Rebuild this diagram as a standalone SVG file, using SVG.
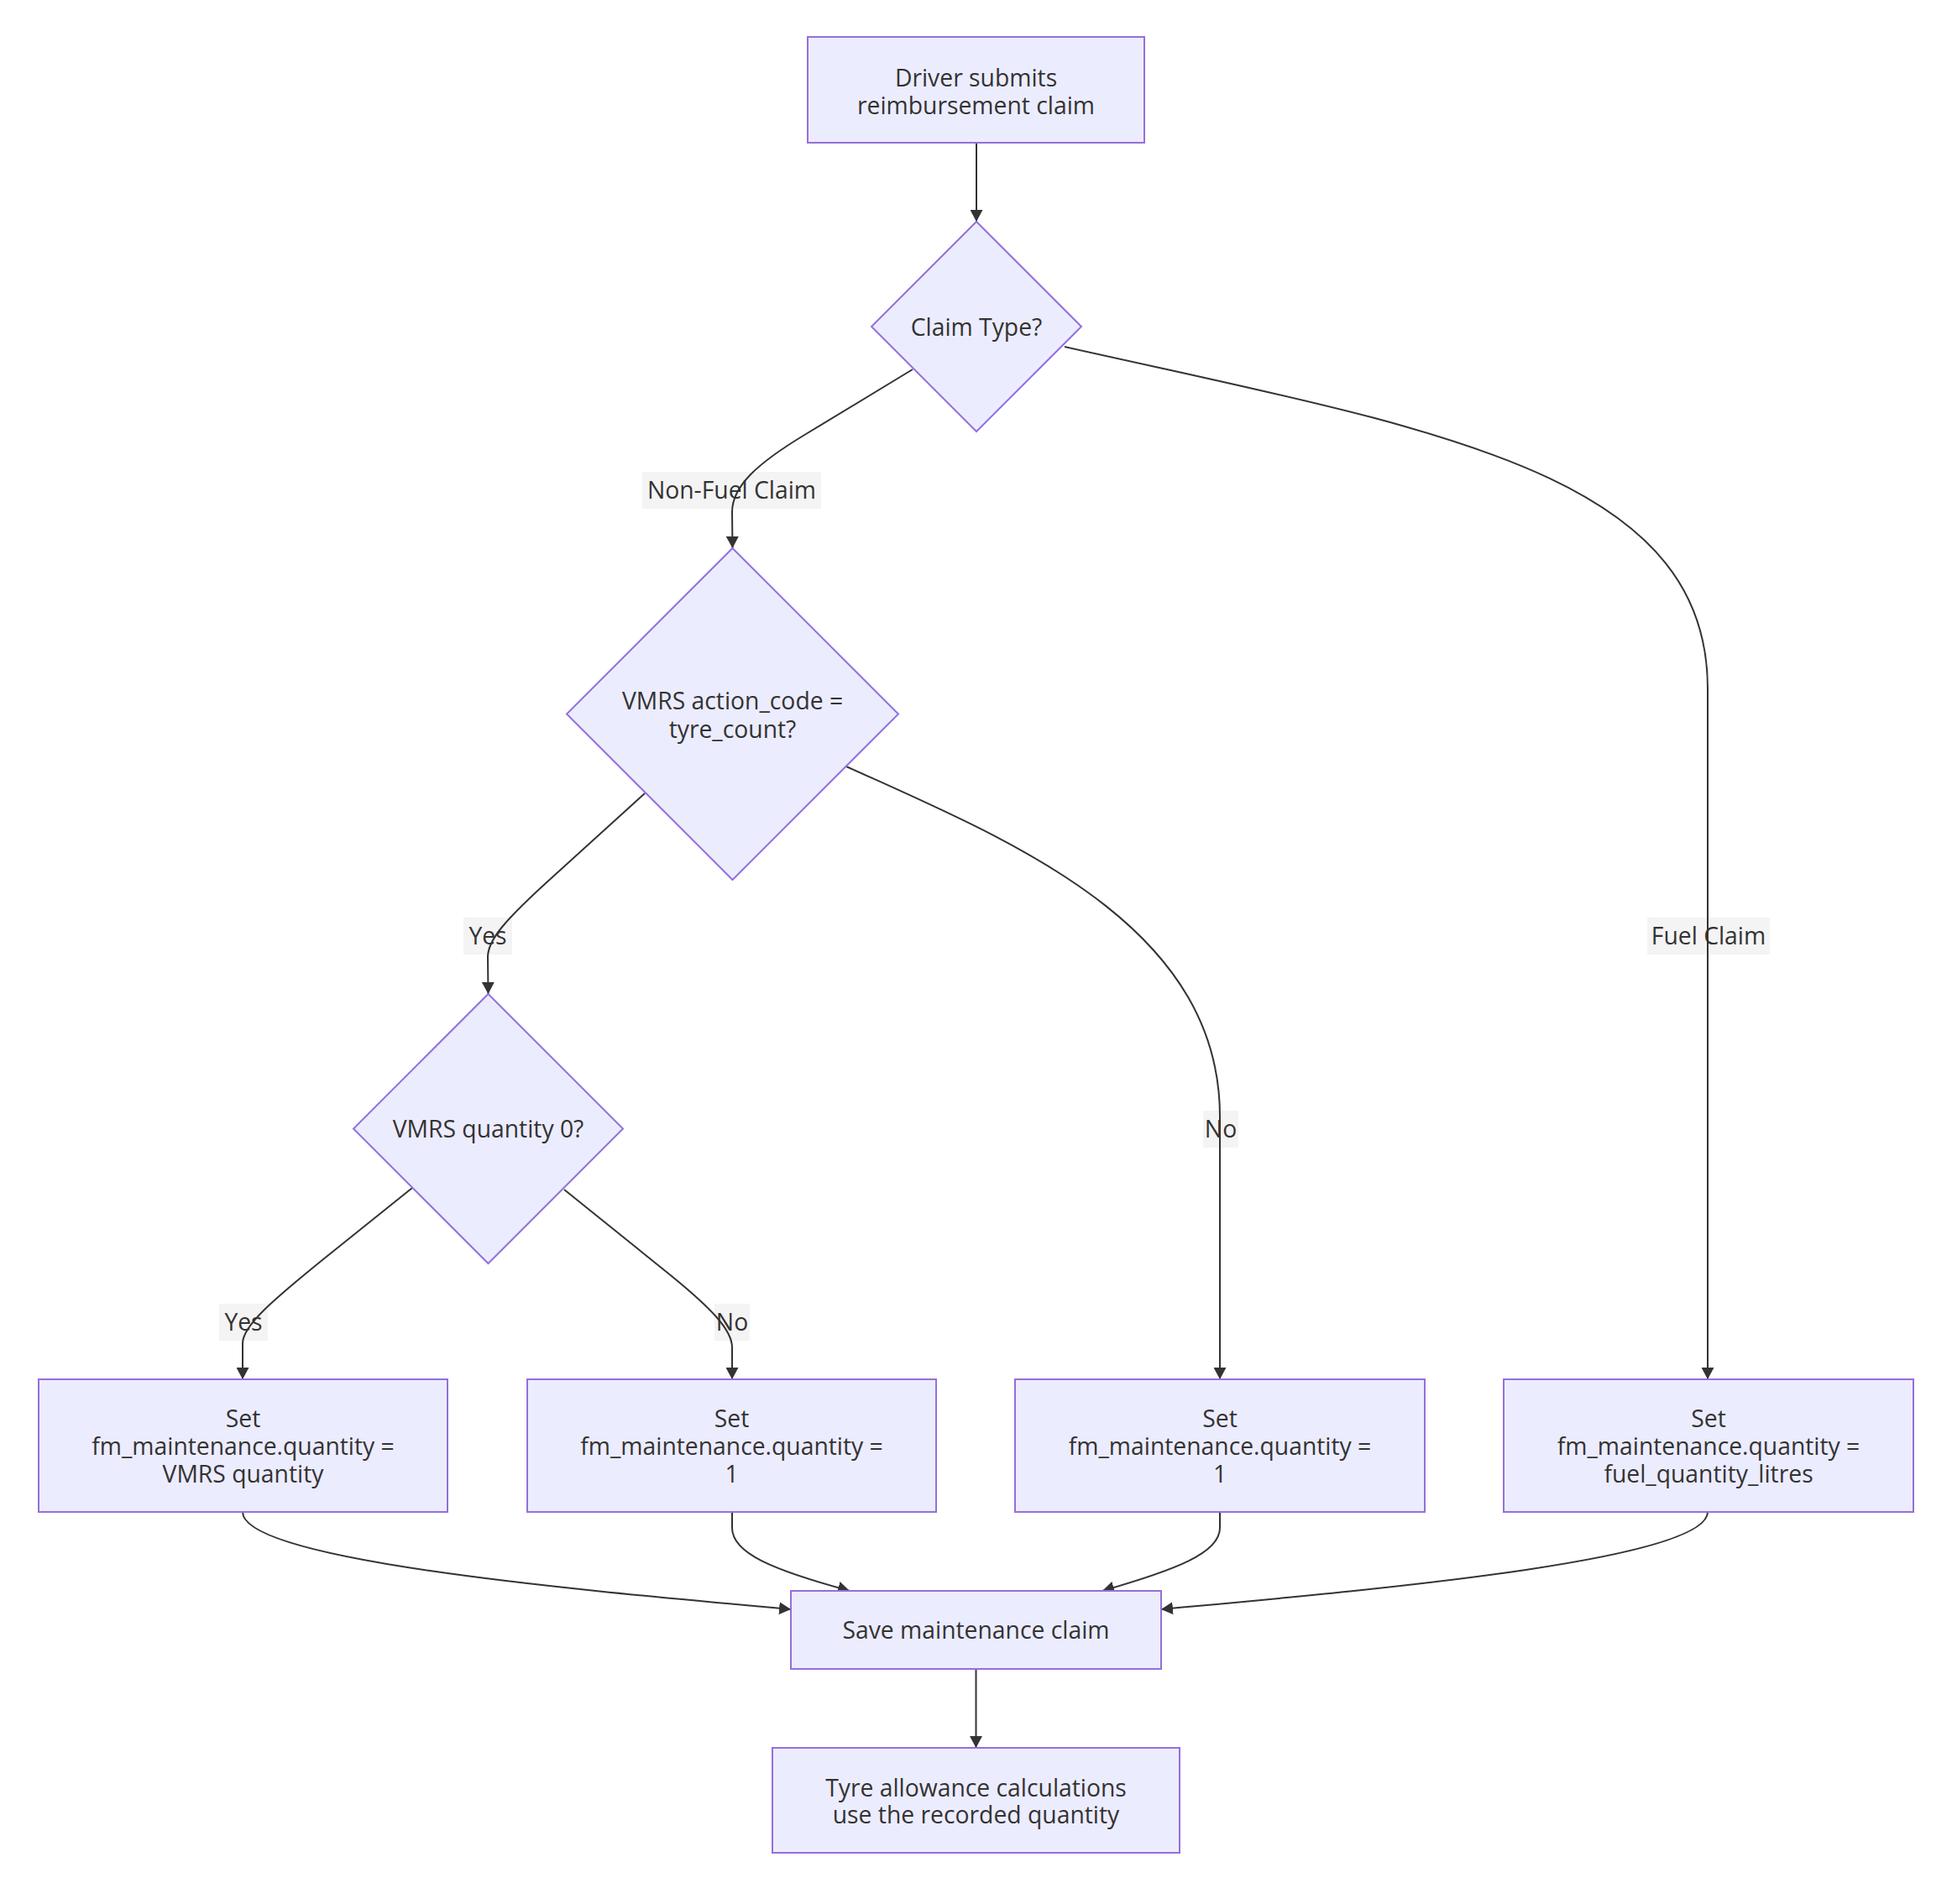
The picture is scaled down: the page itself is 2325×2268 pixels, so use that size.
<svg xmlns="http://www.w3.org/2000/svg" width="2325" height="2268" viewBox="0 0 2325 2268">
<style>
.node rect,.node polygon{fill:#ECECFF;stroke:#9370DB;stroke-width:2}
text{font-family:"Open Sans","Liberation Sans",Arial,sans-serif;font-size:28.3px;fill:#333;text-anchor:middle}
.edge{fill:none;stroke:#333;stroke-width:2;marker-end:url(#arrow)}
.lbl rect{fill:#f4f4f4}
</style>
<defs>
<marker id="arrow" viewBox="0 0 14 15" refX="14" refY="7.5" markerWidth="14" markerHeight="15" markerUnits="userSpaceOnUse" orient="auto">
<path d="M0,0 L14,7.5 L0,15 z" fill="#333"/>
</marker>
</defs>
<rect width="2325" height="2268" fill="#fff"/>
<g id="edge-labels">
<g class="lbl"><rect x="765" y="562" width="213" height="44"/><text x="871.5" y="594">Non-Fuel Claim</text></g>
<g class="lbl"><rect x="1962" y="1093" width="146" height="44"/><text x="2035" y="1125">Fuel Claim</text></g>
<g class="lbl"><rect x="552" y="1093" width="58" height="44"/><text x="581" y="1125">Yes</text></g>
<g class="lbl"><rect x="1433" y="1323" width="42" height="44"/><text x="1454" y="1355">No</text></g>
<g class="lbl"><rect x="261" y="1553" width="58" height="44"/><text x="290" y="1585">Yes</text></g>
<g class="lbl"><rect x="851" y="1553" width="42" height="44"/><text x="872" y="1585">No</text></g>
</g>
<g id="connectors">
<path class="edge" d="M1163,171 L1163,264"/>
<path class="edge" d="M1087,440 L960,517 C900,553 872,580 872,610 L872.5,653"/>
<path class="edge" d="M1268,413 C1700,510 2034,560 2034,820 L2034,1643"/>
<path class="edge" d="M768,945 L660,1043 C600,1097 581,1120 581,1140 L581.5,1184"/>
<path class="edge" d="M1008,913 C1200,1000 1453,1100 1453,1330 L1453,1643"/>
<path class="edge" d="M491,1415 L400,1488 C320,1552 289,1580 289,1600 L289,1643"/>
<path class="edge" d="M672,1417 L790,1512 C850,1560 872,1585 872,1605 L872,1643"/>
<path class="edge" d="M289,1801 C289,1860 700,1895 942,1917"/>
<path class="edge" d="M872,1801 L872,1820 C872,1850 920,1870 1012,1895"/>
<path class="edge" d="M1453,1801 L1453,1820 C1453,1850 1400,1870 1313,1895"/>
<path class="edge" d="M2034,1801 C2034,1860 1620,1895 1383,1917"/>
<path class="edge" d="M1162.5,1988 L1162.5,2082"/>
</g>
<g id="A" class="node"><rect x="962" y="44" width="401" height="126"/><text x="1162.5" y="103">Driver submits</text><text x="1162.5" y="136">reimbursement claim</text></g>
<g id="B" class="node"><polygon points="1163,264 1288,389 1163,514 1038,389"/><text x="1163" y="400">Claim Type?</text></g>
<g id="C" class="node"><polygon points="872.5,653 1070,850.5 872.5,1048 675,850.5"/><text x="872.5" y="845">VMRS action_code =</text><text x="872.5" y="879">tyre_count?</text></g>
<g id="D" class="node"><polygon points="581.5,1184 742,1344.5 581.5,1505 421,1344.5"/><text x="581.5" y="1355">VMRS quantity 0?</text></g>
<g id="E" class="node"><rect x="46" y="1643" width="487" height="158"/><text x="289.5" y="1700">Set</text><text x="289.5" y="1733">fm_maintenance.quantity =</text><text x="289.5" y="1766">VMRS quantity</text></g>
<g id="F" class="node"><rect x="628" y="1643" width="487" height="158"/><text x="871.5" y="1700">Set</text><text x="871.5" y="1733">fm_maintenance.quantity =</text><text x="871.5" y="1766">1</text></g>
<g id="G" class="node"><rect x="1209" y="1643" width="488" height="158"/><text x="1453" y="1700">Set</text><text x="1453" y="1733">fm_maintenance.quantity =</text><text x="1453" y="1766">1</text></g>
<g id="H" class="node"><rect x="1791" y="1643" width="488" height="158"/><text x="2035" y="1700">Set</text><text x="2035" y="1733">fm_maintenance.quantity =</text><text x="2035" y="1766">fuel_quantity_litres</text></g>
<g id="I" class="node"><rect x="942" y="1895" width="441" height="93"/><text x="1162.5" y="1952">Save maintenance claim</text></g>
<g id="J" class="node"><rect x="920" y="2082" width="485" height="125"/><text x="1162.5" y="2140">Tyre allowance calculations</text><text x="1162.5" y="2172">use the recorded quantity</text></g>
</svg>
